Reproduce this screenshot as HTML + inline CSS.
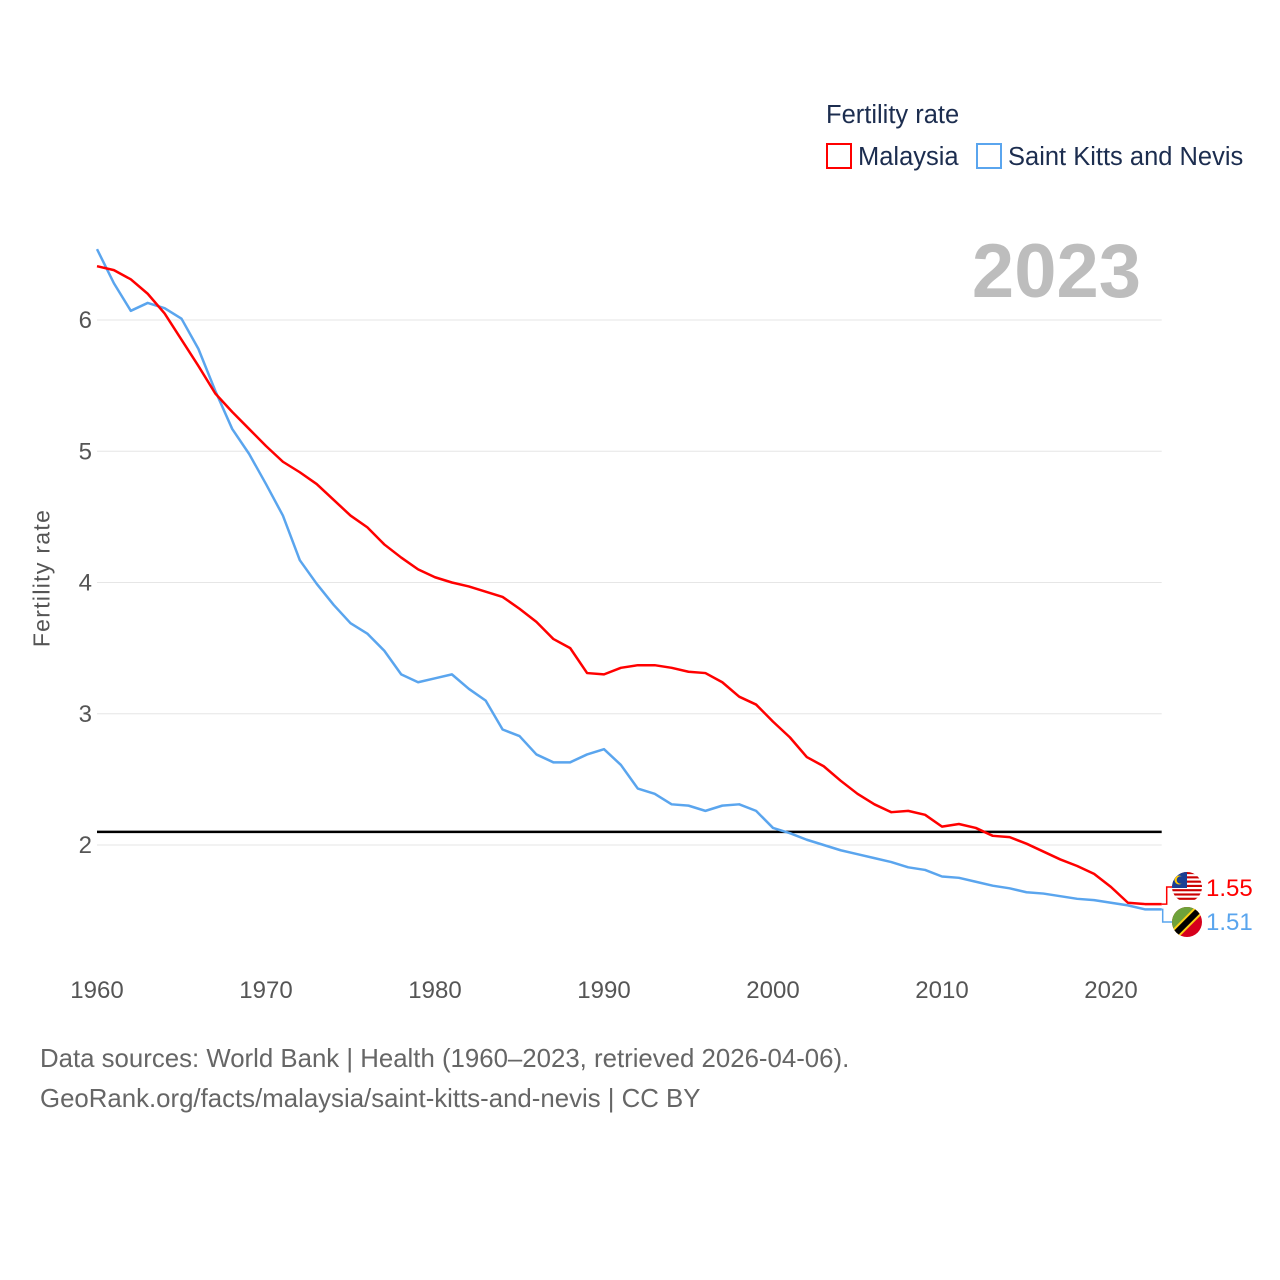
<!DOCTYPE html>
<html><head><meta charset="utf-8"><style>
body{margin:0;background:#fff;font-family:"Liberation Sans",sans-serif}
#wrap{position:relative;width:1280px;height:1280px;overflow:hidden}
.t{position:absolute;white-space:nowrap}
</style></head><body>
<div id="wrap">
<div class="t" style="left:826px;top:101px;font-size:25.5px;color:#1c2d4f">Fertility rate</div>
<div class="t" style="left:826px;top:143px;font-size:25.5px;color:#1c2d4f"><span style="display:inline-block;width:22px;height:22px;border:2px solid #f00;vertical-align:-4px;margin-right:6px"></span>Malaysia</div>
<div class="t" style="left:976px;top:143px;font-size:25.5px;color:#1c2d4f"><span style="display:inline-block;width:22px;height:22px;border:2px solid #5aa5ee;vertical-align:-4px;margin-right:6px"></span>Saint Kitts and Nevis</div>
<div class="t" style="right:139px;top:228px;font-size:76px;font-weight:bold;color:#bdbdbd">2023</div>
<div class="t" style="left:42px;top:578px;font-size:23px;letter-spacing:1.3px;color:#555;transform:translate(-50%,-50%) rotate(-90deg)">Fertility rate</div>
<svg id="chart" width="1280" height="1280" style="position:absolute;left:0;top:0"></svg>
<div class="t" style="left:40px;top:1045px;font-size:25.8px;color:#666">Data sources: World Bank | Health (1960–2023, retrieved 2026-04-06).</div>
<div class="t" style="left:40px;top:1085px;font-size:25.8px;color:#666">GeoRank.org/facts/malaysia/saint-kitts-and-nevis | CC BY</div>
</div>
<script>
const startYear = 1960;
const malaysia = [6.41,6.38,6.31,6.20,6.05,5.85,5.65,5.44,5.30,5.17,5.04,4.92,4.84,4.75,4.63,4.51,4.42,4.29,4.19,4.10,4.04,4.00,3.97,3.93,3.89,3.80,3.70,3.57,3.50,3.31,3.30,3.35,3.37,3.37,3.35,3.32,3.31,3.24,3.13,3.07,2.94,2.82,2.67,2.60,2.49,2.39,2.31,2.25,2.26,2.23,2.14,2.16,2.13,2.07,2.06,2.01,1.95,1.89,1.84,1.78,1.68,1.56,1.55,1.55];
const skn = [6.54,6.28,6.07,6.13,6.09,6.01,5.78,5.46,5.17,4.98,4.75,4.51,4.17,3.99,3.83,3.69,3.61,3.48,3.30,3.24,3.27,3.30,3.19,3.10,2.88,2.83,2.69,2.63,2.63,2.69,2.73,2.61,2.43,2.39,2.31,2.30,2.26,2.30,2.31,2.26,2.13,2.09,2.04,2.00,1.96,1.93,1.90,1.87,1.83,1.81,1.76,1.75,1.72,1.69,1.67,1.64,1.63,1.61,1.59,1.58,1.56,1.54,1.51,1.51];
const yTicks = [2,3,4,5,6];
const xTicks = [1960,1970,1980,1990,2000,2010,2020];
const replacement = 2.1;
const labels = ["1.55","1.51"];

const X = y => 97 + (y - 1960) * (1014/60);
const Y = v => 845 - (v - 2) * 131.25;
const svg = document.getElementById('chart');
const NS = 'http://www.w3.org/2000/svg';
function mk(tag, attrs){const e=document.createElementNS(NS,tag);for(const k in attrs)e.setAttribute(k,attrs[k]);svg.appendChild(e);return e;}
const xEnd = X(startYear + malaysia.length - 1);
yTicks.forEach(v=>{
  const g=mk('line',{x1:97,x2:xEnd,y1:Y(v),y2:Y(v),stroke:'#e6e6e6','stroke-width':1});
  
  
  const t=mk('text',{x:92,y:Y(v)+8,'text-anchor':'end','font-size':24,fill:'#555','font-family':'Liberation Sans, sans-serif'});
  t.textContent=v;
  
  
});
xTicks.forEach(v=>{
  const t=mk('text',{x:X(v),y:998,'text-anchor':'middle','font-size':24,fill:'#555','font-family':'Liberation Sans, sans-serif'});
  t.textContent=v;
  
  
});
const rl=mk('line',{x1:97,x2:xEnd,y1:Y(replacement),y2:Y(replacement),stroke:'#000','stroke-width':2.5});


function series(arr,color,name){
  const p=mk('polyline',{points:arr.map((v,i)=>X(startYear+i)+','+Y(v)).join(' '),fill:'none',stroke:color,'stroke-width':2.5,'stroke-linejoin':'round'});
  
  
}
series(skn,'#5aa5ee','line-saint-kitts');
series(malaysia,'#f00','line-malaysia');
const mEnd=Y(malaysia[malaysia.length-1]), sEnd=Y(skn[skn.length-1]);
const c1=mk('polyline',{points:`${xEnd},${mEnd} ${xEnd+5},${mEnd} ${xEnd+5},887 ${xEnd+11},887`,fill:'none',stroke:'#f00','stroke-width':1.5});


const c2=mk('polyline',{points:`${xEnd},${sEnd} ${xEnd+1},${sEnd} ${xEnd+1},922 ${xEnd+11},922`,fill:'none',stroke:'#5aa5ee','stroke-width':1.5});


const cx=1187;
const clipM=mk('clipPath',{id:'cm'});
const cc=document.createElementNS(NS,'circle');cc.setAttribute('cx',cx);cc.setAttribute('cy',887);cc.setAttribute('r',15);clipM.appendChild(cc);
const gM=mk('g',{'clip-path':'url(#cm)'});


const wbg=document.createElementNS(NS,'rect');wbg.setAttribute('x',cx-15);wbg.setAttribute('y',872);wbg.setAttribute('width',30);wbg.setAttribute('height',30);wbg.setAttribute('fill','#fff');gM.appendChild(wbg);
for(let i=0;i<7;i++){const r=document.createElementNS(NS,'rect');r.setAttribute('x',cx-15);r.setAttribute('y',872+i*30/7);r.setAttribute('width',30);r.setAttribute('height',30/14);r.setAttribute('fill','#cc0001');gM.appendChild(r);}
const bg=document.createElementNS(NS,'rect');bg.setAttribute('x',cx-15);bg.setAttribute('y',872);bg.setAttribute('width',15);bg.setAttribute('height',16);bg.setAttribute('fill','#1a3f94');gM.appendChild(bg);
const mo=document.createElementNS(NS,'circle');mo.setAttribute('cx',cx-8);mo.setAttribute('cy',880);mo.setAttribute('r',4.5);mo.setAttribute('fill','#fc0');gM.appendChild(mo);
const mo2=document.createElementNS(NS,'circle');mo2.setAttribute('cx',cx-6.5);mo2.setAttribute('cy',880);mo2.setAttribute('r',3.8);mo2.setAttribute('fill','#1a3f94');gM.appendChild(mo2);
const clipS=mk('clipPath',{id:'cs'});
const cs=document.createElementNS(NS,'circle');cs.setAttribute('cx',cx);cs.setAttribute('cy',922);cs.setAttribute('r',15);clipS.appendChild(cs);
const gS=mk('g',{'clip-path':'url(#cs)'});


const s1=document.createElementNS(NS,'rect');s1.setAttribute('x',cx-15);s1.setAttribute('y',907);s1.setAttribute('width',30);s1.setAttribute('height',30);s1.setAttribute('fill','#d6001c');gS.appendChild(s1);
const s2=document.createElementNS(NS,'polygon');s2.setAttribute('points',`${cx-15},907 ${cx+15},907 ${cx-15},937`);s2.setAttribute('fill','#6ea23a');gS.appendChild(s2);
const s3=document.createElementNS(NS,'line');s3.setAttribute('x1',cx-17);s3.setAttribute('y1',939);s3.setAttribute('x2',cx+17);s3.setAttribute('y2',905);s3.setAttribute('stroke','#fcd116');s3.setAttribute('stroke-width',10);gS.appendChild(s3);
const s4=document.createElementNS(NS,'line');s4.setAttribute('x1',cx-17);s4.setAttribute('y1',939);s4.setAttribute('x2',cx+17);s4.setAttribute('y2',905);s4.setAttribute('stroke','#000');s4.setAttribute('stroke-width',6);gS.appendChild(s4);
const vl1=mk('text',{x:1206,y:896,'font-size':24,fill:'#f00','font-family':'Liberation Sans, sans-serif'});
vl1.textContent=labels[0];


const vl2=mk('text',{x:1206,y:930,'font-size':24,fill:'#5aa5ee','font-family':'Liberation Sans, sans-serif'});
vl2.textContent=labels[1];


</script>
</body></html>
